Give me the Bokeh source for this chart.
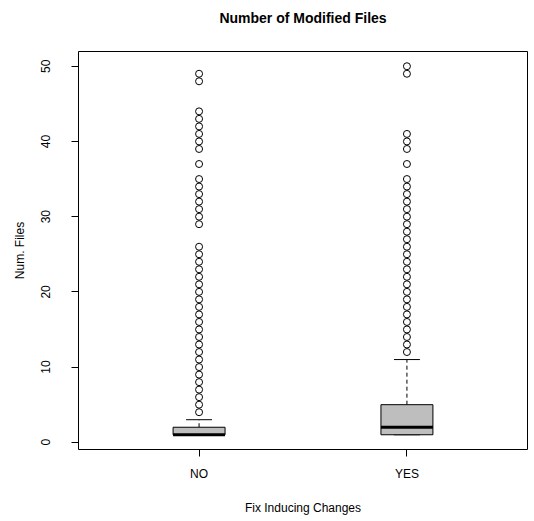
from bokeh.plotting import figure
from bokeh.models import FixedTicker, Range1d, Title
from bokeh.embed import file_html
from bokeh.resources import INLINE

# ---- data ----
categories = ["NO", "YES"]
q1 = [1, 1]
medians = [1, 2]
q3 = [2, 5]
whisker_low = [1, 1]
whisker_high = [3, 11]
outliers_no = list(range(4, 27)) + [29, 30, 31, 32, 33, 34, 35, 37, 39, 40, 41, 42, 43, 44, 48, 49]
outliers_yes = list(range(12, 36)) + [37, 39, 40, 41, 49, 50]
y_ticks = [0, 10, 20, 30, 40, 50]

FONT = "Liberation Sans"
pos = [i + 1 for i in range(len(categories))]
all_vals = whisker_low + whisker_high + outliers_no + outliers_yes
lo, hi = min(all_vals), max(all_vals)
pad = 0.04 * (hi - lo)

p = figure(width=534, height=521, output_backend="svg", toolbar_location=None,
           x_range=Range1d(0.42, 2.58), y_range=Range1d(lo - pad, hi + pad),
           min_border_left=78, min_border_right=7, min_border_top=51, min_border_bottom=72)
p.background_fill_color = "white"
p.border_fill_color = "white"
p.outline_line_color = "black"
p.outline_line_width = 1
p.xgrid.visible = False
p.ygrid.visible = False

bw = 0.25
sw = 0.125
# whiskers (dashed)
p.segment(x0=pos, y0=q3, x1=pos, y1=whisker_high, line_color="black", line_width=1, line_dash="4 3")
p.segment(x0=pos, y0=q1, x1=pos, y1=whisker_low, line_color="black", line_width=1, line_dash="4 3")
# staples
p.segment(x0=[x - sw / 2 for x in pos], y0=whisker_high, x1=[x + sw / 2 for x in pos], y1=whisker_high,
          line_color="black", line_width=1)
p.segment(x0=[x - sw / 2 for x in pos], y0=whisker_low, x1=[x + sw / 2 for x in pos], y1=whisker_low,
          line_color="black", line_width=1)
# boxes
p.quad(left=[x - bw / 2 for x in pos], right=[x + bw / 2 for x in pos], bottom=q1, top=q3,
       fill_color="#BEBEBE", line_color="black", line_width=1)
# medians
p.segment(x0=[x - bw / 2 for x in pos], y0=medians, x1=[x + bw / 2 for x in pos], y1=medians,
          line_color="black", line_width=3)
# outliers
p.scatter(x=[pos[0]] * len(outliers_no), y=outliers_no, marker="circle", size=7,
          fill_color=None, line_color="black", line_width=1)
p.scatter(x=[pos[1]] * len(outliers_yes), y=outliers_yes, marker="circle", size=7,
          fill_color=None, line_color="black", line_width=1)

# axes
xa = p.xaxis[0]
xa.ticker = FixedTicker(ticks=pos)
xa.major_label_overrides = {x: c for x, c in zip(pos, categories)}
xa.bounds = (pos[0], pos[-1])
xa.axis_label = "Fix Inducing Changes"
ya = p.yaxis[0]
ya.ticker = FixedTicker(ticks=y_ticks)
ya.bounds = (y_ticks[0], y_ticks[-1])
ya.axis_label = "Num. Files"
ya.major_label_orientation = "vertical"

for ax in (xa, ya):
    ax.minor_tick_line_color = None
    ax.major_tick_in = 0
    ax.major_tick_out = 7
    ax.major_tick_line_color = "black"
    ax.axis_line_color = "black"
    ax.major_label_text_font = FONT
    ax.major_label_text_font_size = "12px"
    ax.major_label_text_color = "black"
    ax.axis_label_text_font = FONT
    ax.axis_label_text_font_size = "12px"
    ax.axis_label_text_font_style = "normal"
    ax.axis_label_text_color = "black"

xa.major_label_standoff = 10
xa.axis_label_standoff = 17
ya.major_label_standoff = 21
ya.axis_label_standoff = 12

p.title.text = "Number of Modified Files"
p.title.align = "center"
p.title.text_font = FONT
p.title.text_font_size = "14px"
p.title.text_font_style = "bold"
p.title.text_color = "black"
p.title.standoff = 0
p.title.vertical_align = "top"

# empty spacer panel between the frame and the title
spacer = Title(text=" ", text_font=FONT, text_font_size="14px", text_font_style="bold",
               standoff=6, vertical_align="top")
p.add_layout(spacer, "above")

open("out.html", "w").write(file_html(p, INLINE))
